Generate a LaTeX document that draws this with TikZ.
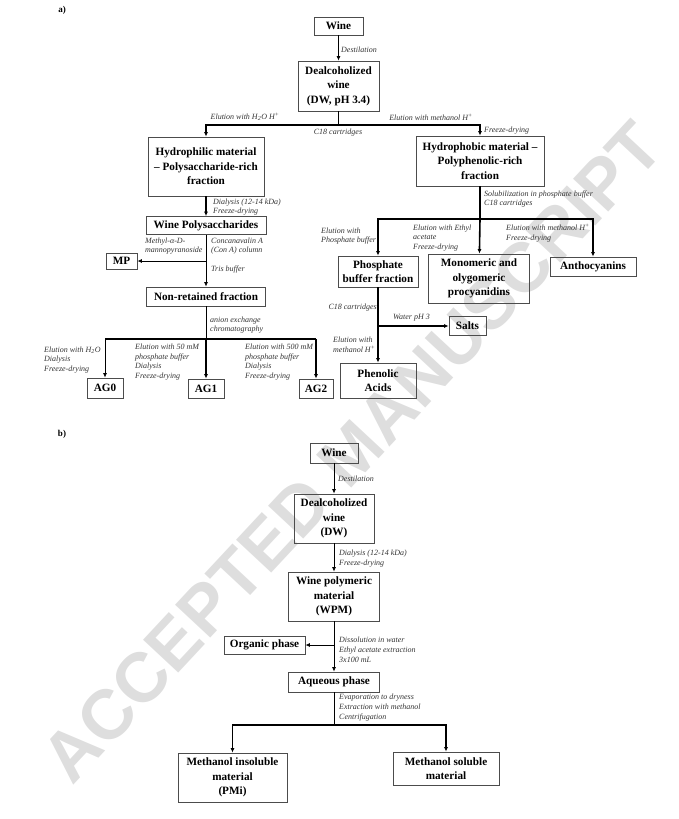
\documentclass[tikz,border=0pt]{standalone}
\usepackage{fontspec}
\setmainfont{Liberation Serif}
\newfontfamily\stampfont{Liberation Sans}
\usetikzlibrary{arrows.meta}
\tikzstyle{box}=[draw=black!70, line width=0.8pt, inner sep=0pt, align=center, font=\fontsize{11.2}{14.5}\selectfont\bfseries]
\tikzstyle{note}=[inner sep=0pt, align=left, text=black!80, font=\fontsize{8}{9.8}\selectfont\itshape]
\tikzstyle{tag}=[inner sep=0pt, font=\fontsize{9}{10}\selectfont\bfseries]
\tikzstyle{stamp}=[inner sep=0pt, text=black!13, font=\stampfont\bfseries\fontsize{70}{70}\selectfont]
\tikzstyle{light}=[line width=0.8pt]
\tikzstyle{heavy}=[line width=1.6pt]
\tikzstyle{tip}=[-{Latex[length=4.5pt,width=4pt]}]

\begin{document}
\begin{tikzpicture}[x=1pt,y=-1pt]
\useasboundingbox (0,0) rectangle (678,819);
\node[stamp, rotate=47] (stamp) at (352,452) {ACCEPTED MANUSCRIPT};

% a)
\node[tag] (taga) at (62,10) {a)};
\node[box, minimum width=49, minimum height=18] (wineA) at (338.5,26) {Wine};
\node[box, minimum width=81, minimum height=50] (dwA) at (338.5,86) {Dealcoholized\\wine\\(DW, pH 3.4)};
\node[box, minimum width=116, minimum height=59] (hydrophilic) at (206,166.5) {Hydrophilic material\\– Polysaccharide-rich\\fraction};
\node[box, minimum width=128, minimum height=50] (hydrophobic) at (480,161) {Hydrophobic material –\\Polyphenolic-rich\\fraction};
\node[box, minimum width=120, minimum height=18] (polysacch) at (206,225.5) {Wine Polysaccharides};
\node[box, minimum width=31, minimum height=16] (mp) at (121.5,261) {MP};
\node[box, minimum width=119, minimum height=19] (nonret) at (206,296.5) {Non-retained fraction};
\node[box, minimum width=36, minimum height=20] (ag0) at (105,388) {AG0};
\node[box, minimum width=36, minimum height=19] (ag1) at (206,388.5) {AG1};
\node[box, minimum width=34, minimum height=19] (ag2) at (316,388.5) {AG2};
\node[box, minimum width=80, minimum height=31] (phosph) at (378,271.5) {Phosphate\\buffer fraction};
\node[box, minimum width=101, minimum height=49] (monomer) at (479,278.5) {Monomeric and\\olygomeric\\procyanidins};
\node[box, minimum width=86, minimum height=19] (antho) at (593,266.5) {Anthocyanins};
\node[box, minimum width=37, minimum height=19] (salts) at (467.5,326) {Salts};
\node[box, minimum width=76, minimum height=35] (phenolic) at (378,380.5) {Phenolic\\Acids};

\coordinate (barA) at (338.5,125);
\coordinate (barB) at (480,219);
\coordinate (mpfork) at (206,261);
\coordinate (barC) at (206,339);
\coordinate (barCl) at (105,339);
\coordinate (barCr) at (316,339);
\coordinate (saltfork) at (378,326);

\draw[light, tip] (wineA) -- (dwA);
\draw[light] (dwA) -- (barA);
\draw[heavy, tip] (barA) -| (hydrophilic);
\draw[heavy, tip] (barA) -| (hydrophobic);
\draw[heavy, tip] (hydrophilic) -- (polysacch);
\draw[light, tip] (polysacch) -- (nonret);
\draw[light, tip] (mpfork) -- (mp);
\draw[light] (nonret) -- (barC);
\draw[heavy] (barCl) -- (barCr);
\draw[light, tip] (barCl) -- (ag0);
\draw[heavy, tip] (barC) -- (ag1);
\draw[heavy, tip] (barCr) -- (ag2);
\draw[heavy] (hydrophobic) -- (barB);
\draw[heavy, tip] (barB) -| (phosph);
\draw[heavy, tip] (barB) -- (monomer);
\draw[heavy, tip] (barB) -| (antho);
\draw[heavy, tip] (phosph) -- (phenolic);
\draw[heavy, tip] (saltfork) -- (salts);

\node[note, anchor=west] (distA) at (341,50) {Destilation};
\node[note] (eluteH) at (245,117) {Elution with H\textsubscript{2}O H\textsuperscript{+}};
\node[note] (eluteM) at (431,117) {Elution with methanol H\textsuperscript{+}};
\node[note] (cartA) at (338,133) {C18 cartridges};
\node[note, anchor=west] (freezeA) at (484,131) {Freeze-drying};
\node[note, anchor=west] (dialA) at (213,207) {Dialysis (12-14 kDa)\\Freeze-drying};
\node[note, anchor=west] (methyl) at (145,246) {Methyl-α-D-\\mannopyranoside};
\node[note, anchor=west] (conA) at (211,246) {Concanavalin A\\(Con A) column};
\node[note, anchor=west] (tris) at (211,270) {Tris buffer};
\node[note, anchor=west] (anion) at (210,325) {anion exchange\\chromatography};
\node[note, anchor=west] (eluteAG0) at (44,360) {Elution with H\textsubscript{2}O\\Dialysis\\Freeze-drying};
\node[note, anchor=west] (eluteAG1) at (135,362) {Elution with 50 mM\\phosphate buffer\\Dialysis\\Freeze-drying};
\node[note, anchor=west] (eluteAG2) at (245,362) {Elution with 500 mM\\phosphate buffer\\Dialysis\\Freeze-drying};
\node[note, anchor=west] (solub) at (484,199) {Solubilization in phosphate buffer\\C18 cartridges};
\node[note, anchor=west] (elutePB) at (321,236) {Elution with\\Phosphate buffer};
\node[note, anchor=west] (eluteEA) at (413,238) {Elution with Ethyl\\acetate\\Freeze-drying};
\node[note, anchor=west] (eluteMA) at (506,233) {Elution with methanol H\textsuperscript{+}\\Freeze-drying};
\node[note, anchor=east] (cartB) at (377,308) {C18 cartridges};
\node[note, anchor=west] (water) at (393,318) {Water pH 3};
\node[note, anchor=west] (eluteMB) at (333,345) {Elution with\\methanol H\textsuperscript{+}};

% b)
\node[tag] (tagb) at (62,434) {b)};
\node[box, minimum width=48, minimum height=20] (wineB) at (334,453) {Wine};
\node[box, minimum width=80, minimum height=49] (dwB) at (334,518.5) {Dealcoholized\\wine\\(DW)};
\node[box, minimum width=91, minimum height=49] (wpm) at (334,596.5) {Wine polymeric\\material\\(WPM)};
\node[box, minimum width=81, minimum height=18] (organic) at (264.5,645) {Organic phase};
\node[box, minimum width=91, minimum height=20] (aqueous) at (334,682) {Aqueous phase};
\node[box, minimum width=109, minimum height=49] (insoluble) at (232.5,777.5) {Methanol insoluble\\material\\(PMi)};
\node[box, minimum width=106, minimum height=33] (soluble) at (446,768.5) {Methanol soluble\\material};

\coordinate (orgfork) at (334,645);
\coordinate (barD) at (334,725);

\draw[light, tip] (wineB) -- (dwB);
\draw[light, tip] (dwB) -- (wpm);
\draw[light, tip] (wpm) -- (aqueous);
\draw[light, tip] (orgfork) -- (organic);
\draw[light] (aqueous) -- (barD);
\draw[heavy, tip] (barD) -| (insoluble);
\draw[heavy, tip] (barD) -| (soluble);

\node[note, anchor=west] (distB) at (338,479) {Destilation};
\node[note, anchor=west] (dialB) at (339,558.5) {Dialysis (12-14 kDa)\\Freeze-drying};
\node[note, anchor=west] (dissol) at (339,650) {Dissolution in water\\Ethyl acetate extraction\\3x100 mL};
\node[note, anchor=west] (evap) at (339,707.5) {Evaporation to dryness\\Extraction with methanol\\Centrifugation};
\end{tikzpicture}
\end{document}
